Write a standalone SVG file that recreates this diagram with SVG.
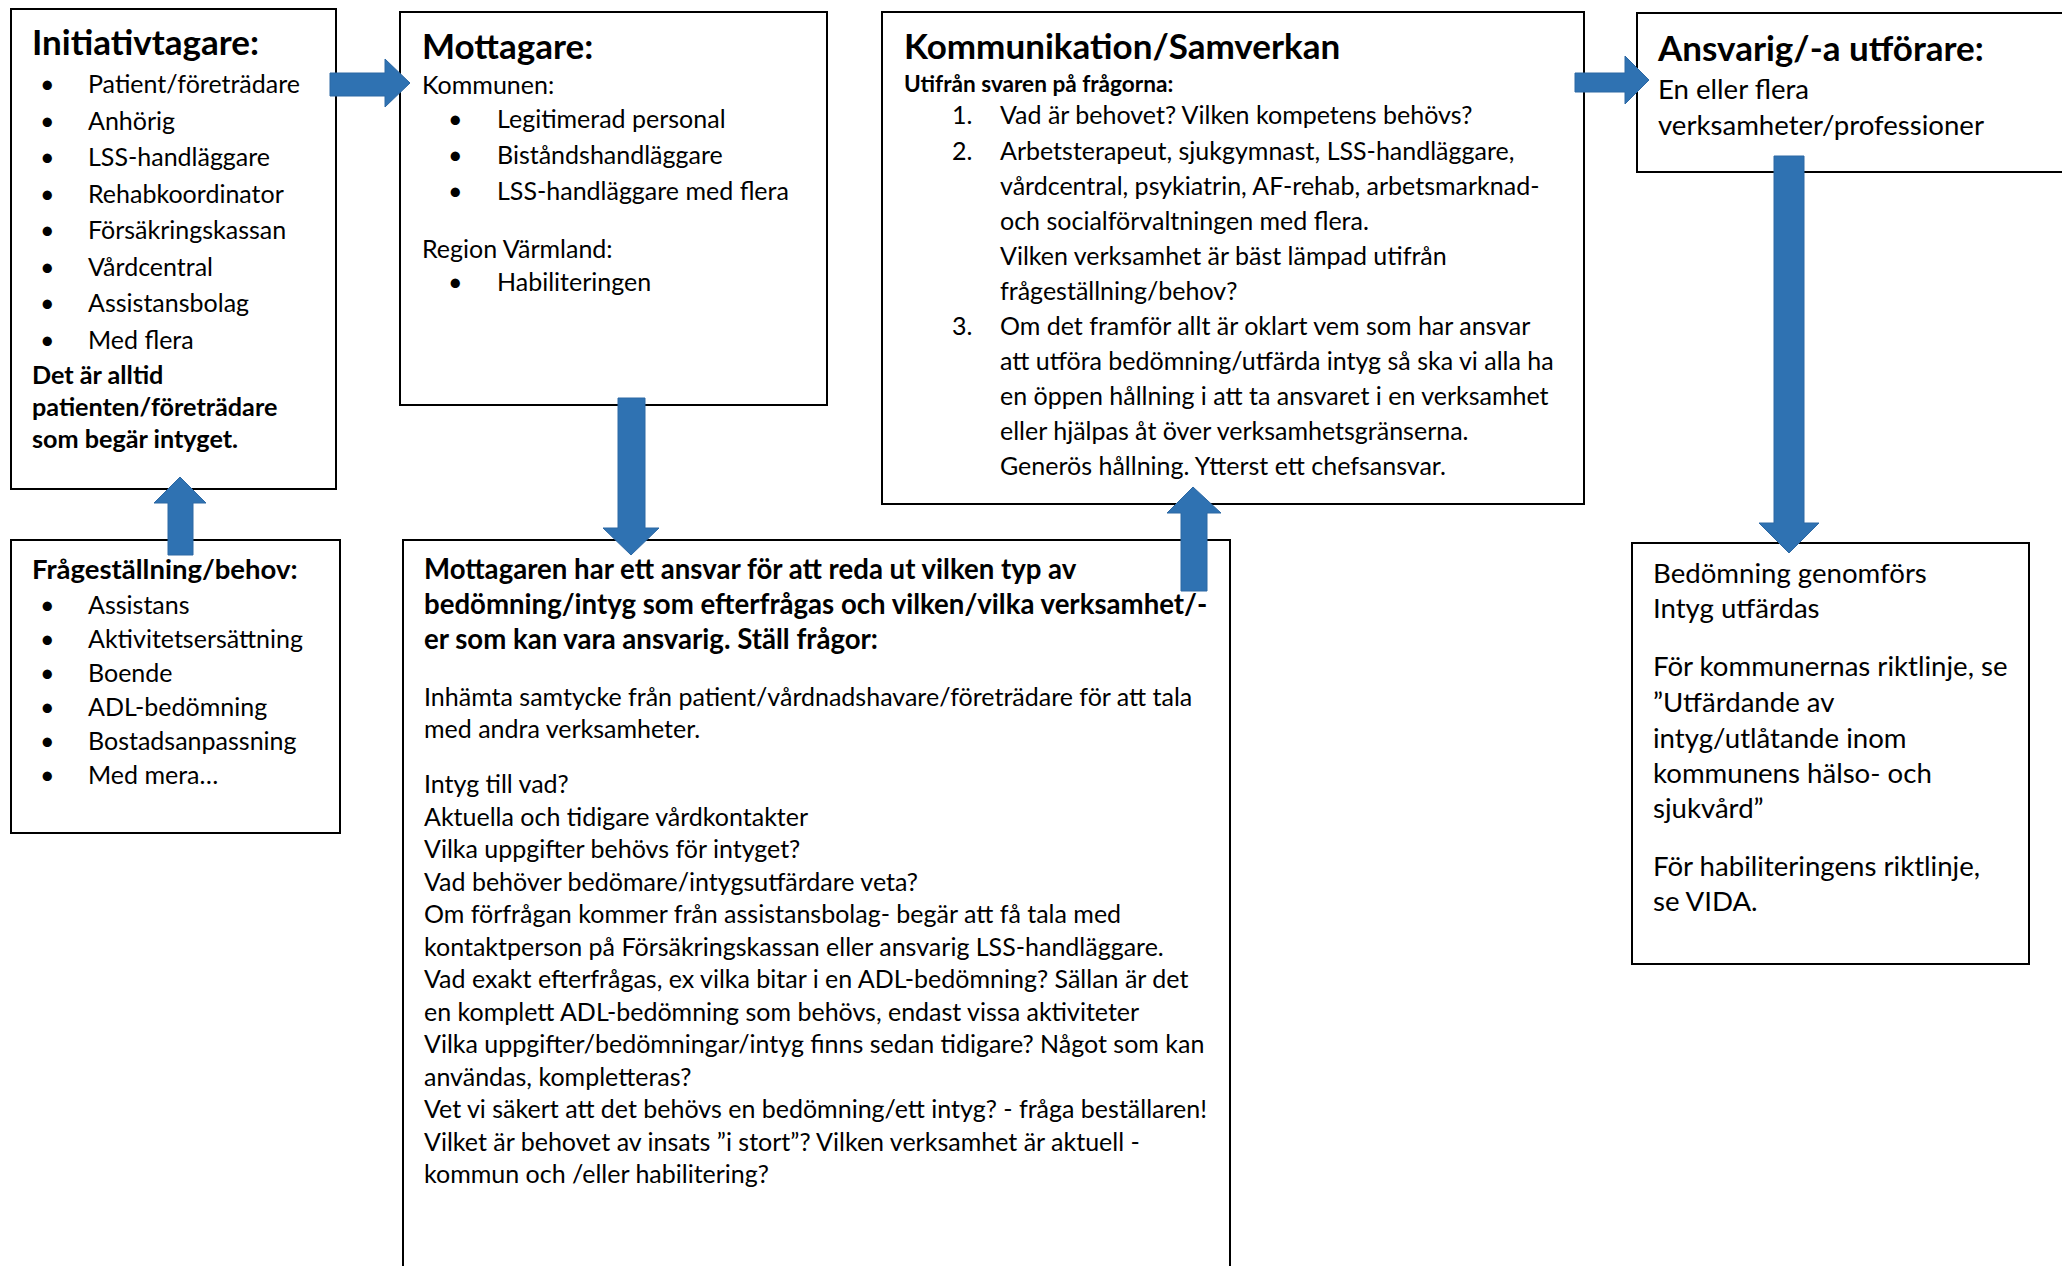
<svg xmlns="http://www.w3.org/2000/svg" width="2062" height="1266" viewBox="0 0 2062 1266">
<style>
.box{fill:#fff;stroke:#000;stroke-width:2}
.arrow{fill:#2F72B2;stroke:#2C68A4;stroke-width:1}
text{font-family:Lato,"Liberation Sans",sans-serif;fill:#000}
.h1{font-size:35px;font-weight:bold}
.h2{font-size:27.5px;font-weight:bold}
.b{font-size:25px}
.bb{font-size:25.2px;font-weight:bold}
.bm{font-size:27.6px;font-weight:bold}
.l{font-size:27.6px}
.s{font-size:22.6px;font-weight:bold}
</style>
<rect width="2062" height="1266" fill="#fff"/>
<g id="initiativtagare">
<rect class="box" x="11" y="9" width="325" height="480"/>
<text class="h1" x="32" y="55">Initiativtagare:</text>
<g class="b">
<text x="40" y="93">•</text><text x="88" y="93">Patient/företrädare</text>
<text x="40" y="129.5">•</text><text x="88" y="129.5">Anhörig</text>
<text x="40" y="166">•</text><text x="88" y="166">LSS-handläggare</text>
<text x="40" y="202.5">•</text><text x="88" y="202.5">Rehabkoordinator</text>
<text x="40" y="239">•</text><text x="88" y="239">Försäkringskassan</text>
<text x="40" y="275.5">•</text><text x="88" y="275.5">Vårdcentral</text>
<text x="40" y="312">•</text><text x="88" y="312">Assistansbolag</text>
<text x="40" y="348.5">•</text><text x="88" y="348.5">Med flera</text>
</g>
<text class="bb" x="32" y="384">Det är alltid</text>
<text class="bb" x="32" y="416">patienten/företrädare</text>
<text class="bb" x="32" y="448">som begär intyget.</text>
</g>
<g id="fragestallning">
<rect class="box" x="11" y="540" width="329" height="293"/>
<text class="h2" x="32" y="579">Frågeställning/behov:</text>
<g class="b">
<text x="40" y="614">•</text><text x="88" y="614">Assistans</text>
<text x="40" y="648">•</text><text x="88" y="648">Aktivitetsersättning</text>
<text x="40" y="682">•</text><text x="88" y="682">Boende</text>
<text x="40" y="716">•</text><text x="88" y="716">ADL-bedömning</text>
<text x="40" y="750">•</text><text x="88" y="750">Bostadsanpassning</text>
<text x="40" y="784">•</text><text x="88" y="784">Med mera…</text>
</g>
</g>
<g id="mottagare">
<rect class="box" x="400" y="12" width="427" height="393"/>
<text class="h1" x="422" y="59">Mottagare:</text>
<g class="b">
<text x="422" y="94">Kommunen:</text>
<text x="448" y="128">•</text><text x="497" y="128">Legitimerad personal</text>
<text x="448" y="164">•</text><text x="497" y="164">Biståndshandläggare</text>
<text x="448" y="200">•</text><text x="497" y="200">LSS-handläggare med flera</text>
<text x="422" y="258">Region Värmland:</text>
<text x="448" y="291">•</text><text x="497" y="291">Habiliteringen</text>
</g>
</g>
<g id="kommunikation">
<rect class="box" x="882" y="12" width="702" height="492"/>
<text class="h1" x="904" y="59">Kommunikation/Samverkan</text>
<text class="s" x="904" y="92">Utifrån svaren på frågorna:</text>
<g class="b">
<text x="952" y="124">1.</text><text x="1000" y="124">Vad är behovet? Vilken kompetens behövs?</text>
<text x="952" y="160">2.</text><text x="1000" y="160">Arbetsterapeut, sjukgymnast, LSS-handläggare,</text>
<text x="1000" y="195">vårdcentral, psykiatrin, AF-rehab, arbetsmarknad-</text>
<text x="1000" y="230">och socialförvaltningen med flera.</text>
<text x="1000" y="265">Vilken verksamhet är bäst lämpad utifrån</text>
<text x="1000" y="300">frågeställning/behov?</text>
<text x="952" y="335">3.</text><text x="1000" y="335">Om det framför allt är oklart vem som har ansvar</text>
<text x="1000" y="370">att utföra bedömning/utfärda intyg så ska vi alla ha</text>
<text x="1000" y="405">en öppen hållning i att ta ansvaret i en verksamhet</text>
<text x="1000" y="440">eller hjälpas åt över verksamhetsgränserna.</text>
<text x="1000" y="475">Generös hållning. Ytterst ett chefsansvar.</text>
</g>
</g>
<g id="ansvarig">
<rect class="box" x="1637" y="13" width="440" height="159"/>
<text class="h1" x="1658" y="61">Ansvarig/-a utförare:</text>
<text class="l" x="1658" y="99">En eller flera</text>
<text class="l" x="1658" y="135">verksamheter/professioner</text>
</g>
<g id="mottagaren-ansvar">
<rect class="box" x="403" y="540" width="827" height="760"/>
<text class="bm" x="424" y="579">Mottagaren har ett ansvar för att reda ut vilken typ av</text>
<text class="bm" x="424" y="614">bedömning/intyg som efterfrågas och vilken/vilka verksamhet/-</text>
<text class="bm" x="424" y="649">er som kan vara ansvarig. Ställ frågor:</text>
<g class="b">
<text x="424" y="706">Inhämta samtycke från patient/vårdnadshavare/företrädare för att tala</text>
<text x="424" y="738">med andra verksamheter.</text>
<text x="424" y="793">Intyg till vad?</text>
<text x="424" y="825.5">Aktuella och tidigare vårdkontakter</text>
<text x="424" y="858">Vilka uppgifter behövs för intyget?</text>
<text x="424" y="890.5">Vad behöver bedömare/intygsutfärdare veta?</text>
<text x="424" y="923">Om förfrågan kommer från assistansbolag- begär att få tala med</text>
<text x="424" y="955.5">kontaktperson på Försäkringskassan eller ansvarig LSS-handläggare.</text>
<text x="424" y="988">Vad exakt efterfrågas, ex vilka bitar i en ADL-bedömning? Sällan är det</text>
<text x="424" y="1020.5">en komplett ADL-bedömning som behövs, endast vissa aktiviteter</text>
<text x="424" y="1053">Vilka uppgifter/bedömningar/intyg finns sedan tidigare? Något som kan</text>
<text x="424" y="1085.5">användas, kompletteras?</text>
<text x="424" y="1118">Vet vi säkert att det behövs en bedömning/ett intyg? - fråga beställaren!</text>
<text x="424" y="1150.5">Vilket är behovet av insats ”i stort”? Vilken verksamhet är aktuell -</text>
<text x="424" y="1183">kommun och /eller habilitering?</text>
</g>
</g>
<g id="bedomning">
<rect class="box" x="1632" y="543" width="397" height="421"/>
<g class="l">
<text x="1653" y="583">Bedömning genomförs</text>
<text x="1653" y="618">Intyg utfärdas</text>
<text x="1653" y="676">För kommunernas riktlinje, se</text>
<text x="1653" y="712">”Utfärdande av</text>
<text x="1653" y="748">intyg/utlåtande inom</text>
<text x="1653" y="783">kommunens hälso- och</text>
<text x="1653" y="818">sjukvård”</text>
<text x="1653" y="876">För habiliteringens riktlinje,</text>
<text x="1653" y="911">se VIDA.</text>
</g>
</g>
<g id="connectors">
<polygon class="arrow" points="330,73 385,73 385,59 410,83 385,107 385,96 330,96"/>
<polygon class="arrow" points="168,555 193,555 193,503 206,503 180,477 154,503 168,503"/>
<polygon class="arrow" points="618,398 645,398 645,528 659,528 631,555 603,528 618,528"/>
<polygon class="arrow" points="1181,591 1207,591 1207,513 1221,513 1193,487 1167,513 1181,513"/>
<polygon class="arrow" points="1575,73 1625,73 1625,56 1649,80 1625,104 1625,92 1575,92"/>
<polygon class="arrow" points="1774,156 1804,156 1804,523 1819,523 1789,553 1759,523 1774,523"/>
</g>
</svg>
